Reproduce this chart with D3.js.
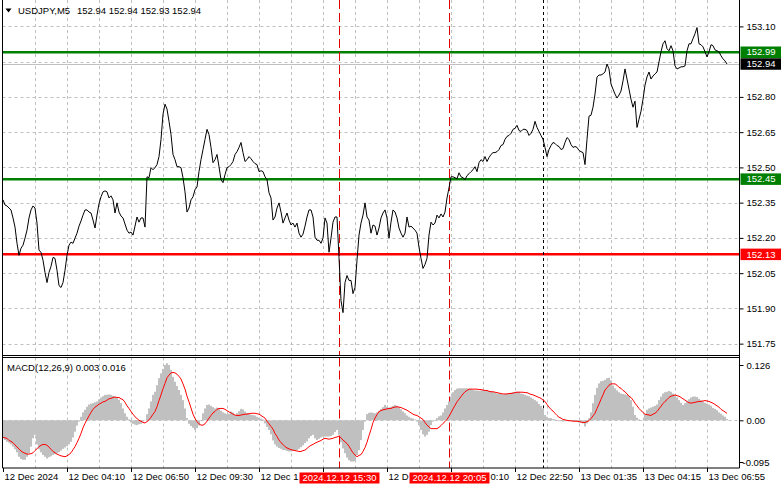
<!DOCTYPE html>
<html><head><meta charset="utf-8">
<script src="https://cdn.jsdelivr.net/npm/d3@7"></script>
<style>
html,body{margin:0;padding:0;background:#fff;}
svg{display:block;font-family:"Liberation Sans",Arial,sans-serif;}
</style></head><body>
<svg id="c" width="781" height="489"></svg>
<script>
// ---------- DATA ----------
const symbol = "USDJPY,M5";
const ohlc = ["152.94", "152.94", "152.93", "152.94"];
const closes = [
152.362,152.340,152.336,152.327,152.319,152.285,152.246,152.177,152.126,152.156,
152.169,152.199,152.233,152.285,152.319,152.336,152.327,152.263,152.147,152.139,
152.105,152.053,152.010,152.053,152.079,152.117,152.113,152.062,151.997,151.989,
152.010,152.062,152.126,152.169,152.182,152.177,152.199,152.220,152.250,152.272,
152.297,152.319,152.319,152.310,152.306,152.276,152.242,152.297,152.345,152.375,
152.396,152.400,152.396,152.370,152.379,152.362,152.306,152.349,152.310,152.293,
152.285,152.259,152.233,152.220,152.225,152.212,152.250,152.289,152.267,152.285,
152.285,152.246,152.460,152.456,152.499,152.490,152.499,152.512,152.546,152.619,
152.726,152.769,152.748,152.696,152.640,152.555,152.533,152.503,152.503,152.499,
152.456,152.396,152.310,152.327,152.362,152.375,152.405,152.417,152.482,152.533,
152.576,152.619,152.662,152.640,152.585,152.520,152.533,152.555,152.503,152.448,
152.435,152.469,152.499,152.503,152.512,152.525,152.555,152.567,152.585,152.606,
152.563,152.525,152.533,152.546,152.537,152.525,152.516,152.512,152.482,
152.486,152.482,152.460,152.448,152.392,152.370,152.276,152.289,152.327,152.349,
152.310,152.263,152.285,152.306,152.276,152.255,152.263,152.246,152.263,152.220,
152.203,152.216,152.250,152.289,152.319,152.319,152.289,152.203,152.190,152.190,
152.177,152.199,152.285,152.263,152.139,152.199,152.267,152.289,152.289,152.117,
151.933,151.882,152.010,152.040,152.019,152.019,151.963,151.989,152.105,152.212,
152.263,152.297,152.349,152.289,152.276,152.220,152.255,152.250,152.212,152.242,
152.285,152.306,152.319,152.285,152.199,152.267,152.319,152.310,152.285,152.242,
152.220,152.203,152.220,152.289,152.246,152.250,152.242,152.233,152.220,152.160,
152.113,152.070,152.087,152.113,152.212,152.267,152.255,152.263,152.297,152.285,
152.302,152.289,152.310,152.370,152.413,152.460,152.460,152.456,152.452,152.477,
152.460,152.456,152.448,152.465,152.473,152.482,152.490,152.503,152.482,152.520,
152.533,152.525,152.546,152.525,152.542,152.555,152.563,152.563,152.567,152.576,
152.593,152.597,152.619,152.632,152.636,152.645,152.662,152.666,152.679,152.657,
152.653,152.662,152.662,152.657,152.636,152.645,152.662,152.696,152.670,152.653,
152.636,152.619,152.585,152.546,152.576,152.593,152.606,152.602,152.593,152.589,
152.576,152.580,152.606,152.627,152.619,152.597,152.585,152.589,152.585,152.572,
152.567,152.563,152.512,152.619,152.718,152.722,152.756,152.812,152.885,152.893,
152.893,152.898,152.906,152.940,152.919,152.855,152.833,152.812,152.795,152.808,
152.825,152.868,152.919,152.876,152.833,152.790,152.756,152.782,152.670,152.705,
152.739,152.790,152.850,152.885,152.906,152.876,152.889,152.898,152.906,152.949,
152.992,153.026,153.039,153.005,152.996,153.018,152.996,152.932,152.919,152.923,
152.928,152.928,152.932,152.996,153.026,153.026,153.048,153.069,153.095,153.026,
153.022,153.013,152.992,152.970,152.992,153.022,153.018,153.000,152.996,152.992,
152.975,152.962,152.953,152.940
];
const macdMain = [
-0.041,-0.045,-0.049,-0.051,-0.055,-0.060,-0.066,-0.073,-0.083,-0.088,
-0.090,-0.090,-0.083,-0.075,-0.060,-0.041,-0.033,-0.055,-0.066,-0.073,
-0.079,-0.083,-0.087,-0.084,-0.082,-0.079,-0.077,-0.075,-0.073,-0.069,
-0.065,-0.062,-0.059,-0.055,-0.049,-0.039,-0.026,-0.012,-0.003,0.008,
0.018,0.024,0.031,0.036,0.038,0.039,0.041,0.043,0.048,0.052,
0.055,0.058,0.058,0.059,0.058,0.056,0.054,0.052,0.047,0.039,
0.027,0.016,0.008,0.002,-0.005,-0.008,-0.010,-0.011,-0.009,-0.008,
-0.003,0.001,0.014,0.027,0.043,0.058,0.065,0.080,0.096,0.107,
0.117,0.126,0.130,0.126,0.115,0.099,0.088,0.078,0.069,0.058,
0.046,0.027,0.005,-0.008,-0.013,-0.017,-0.022,-0.018,-0.012,0.001,
0.016,0.027,0.035,0.036,0.033,0.030,0.027,0.029,0.027,0.022,
0.018,0.016,0.014,0.015,0.020,0.018,0.012,0.016,0.021,0.026,
0.025,0.020,0.017,0.015,0.013,0.012,0.011,0.008,0.006,
0.004,0.002,-0.007,-0.015,-0.022,-0.032,-0.046,-0.055,-0.060,-0.063,
-0.065,-0.068,-0.068,-0.070,-0.071,-0.071,-0.070,-0.069,-0.068,-0.065,
-0.061,-0.057,-0.052,-0.048,-0.041,-0.036,-0.033,-0.041,-0.045,-0.042,
-0.039,-0.037,-0.037,-0.037,-0.037,-0.036,-0.033,-0.027,-0.022,-0.033,
-0.050,-0.064,-0.075,-0.085,-0.091,-0.094,-0.094,-0.093,-0.079,-0.068,
-0.045,-0.022,-0.003,0.014,0.017,0.018,0.017,0.016,0.018,0.021,
0.026,0.030,0.035,0.031,0.029,0.031,0.033,0.035,0.033,0.030,
0.025,0.020,0.016,0.011,0.008,0.005,0.004,0.002,-0.003,-0.011,
-0.022,-0.032,-0.037,-0.033,-0.026,-0.011,-0.003,0.001,0.005,0.009,
0.011,0.018,0.027,0.035,0.043,0.054,0.064,0.069,0.072,0.073,
0.073,0.073,0.073,0.073,0.072,0.071,0.069,0.068,0.068,0.067,
0.068,0.069,0.068,0.068,0.067,0.066,0.065,0.063,0.061,0.061,
0.060,0.059,0.060,0.061,0.061,0.063,0.064,0.065,0.065,0.065,
0.061,0.060,0.058,0.056,0.055,0.052,0.049,0.046,0.043,0.037,
0.033,0.027,0.012,0.008,0.005,0.005,0.003,0.002,-0.001,-0.002,
-0.002,-0.003,-0.002,-0.002,-0.002,-0.002,-0.003,-0.003,-0.004,-0.005,
-0.005,-0.007,-0.014,-0.007,0.005,0.018,0.039,0.058,0.074,0.084,
0.089,0.090,0.092,0.096,0.097,0.091,0.079,0.073,0.068,0.064,
0.061,0.060,0.059,0.058,0.055,0.046,0.031,0.012,0.006,0.002,
-0.001,0.001,0.014,0.024,0.027,0.029,0.031,0.033,0.036,0.046,
0.054,0.061,0.064,0.065,0.067,0.065,0.061,0.057,0.052,0.046,
0.040,0.035,0.039,0.043,0.048,0.052,0.054,0.054,0.053,0.049,
0.046,0.043,0.040,0.038,0.036,0.033,0.028,0.026,0.023,0.018,
0.015,0.011,0.008,0.003
];
const macdSignal = [
-0.039,-0.040,-0.041,-0.046,-0.048,-0.051,-0.056,-0.061,-0.065,-0.070,
-0.073,-0.075,-0.077,-0.077,-0.076,-0.074,-0.069,-0.065,-0.060,-0.057,
-0.055,-0.055,-0.057,-0.061,-0.066,-0.071,-0.074,-0.077,-0.079,-0.081,
-0.082,-0.083,-0.081,-0.078,-0.074,-0.067,-0.060,-0.051,-0.041,-0.030,
-0.017,-0.007,0.002,0.010,0.018,0.025,0.030,0.033,0.037,0.039,
0.042,0.043,0.046,0.049,0.050,0.052,0.053,0.052,0.052,0.049,
0.047,0.041,0.033,0.027,0.020,0.014,0.008,0.004,0.000,-0.002,
-0.005,-0.006,-0.003,0.001,0.007,0.014,0.020,0.031,0.045,0.058,
0.072,0.084,0.097,0.103,0.108,0.109,0.108,0.105,0.100,0.094,
0.083,0.071,0.055,0.042,0.028,0.014,0.004,-0.003,-0.008,-0.011,
-0.011,-0.008,-0.002,0.005,0.011,0.017,0.020,0.025,0.027,0.027,
0.027,0.025,0.022,0.019,0.017,0.014,0.012,0.011,0.011,0.012,
0.013,0.014,0.014,0.015,0.016,0.016,0.016,0.015,0.014,
0.011,0.008,0.005,-0.002,-0.008,-0.014,-0.020,-0.030,-0.037,-0.045,
-0.051,-0.055,-0.060,-0.063,-0.065,-0.067,-0.068,-0.069,-0.070,-0.071,
-0.071,-0.069,-0.068,-0.064,-0.060,-0.057,-0.055,-0.052,-0.050,-0.048,
-0.046,-0.043,-0.041,-0.042,-0.043,-0.042,-0.041,-0.039,-0.038,-0.036,
-0.040,-0.045,-0.049,-0.053,-0.059,-0.067,-0.074,-0.079,-0.083,-0.080,
-0.078,-0.071,-0.062,-0.050,-0.035,-0.021,-0.005,0.005,0.013,0.020,
0.022,0.024,0.025,0.026,0.027,0.027,0.029,0.030,0.031,0.030,
0.029,0.027,0.025,0.023,0.020,0.017,0.014,0.012,0.011,0.008,
0.005,0.002,-0.005,-0.011,-0.015,-0.019,-0.019,-0.019,-0.019,-0.016,
-0.012,-0.007,-0.003,0.002,0.009,0.017,0.026,0.034,0.042,0.048,
0.054,0.060,0.065,0.068,0.071,0.071,0.071,0.071,0.071,0.070,
0.070,0.069,0.068,0.068,0.066,0.065,0.065,0.064,0.063,0.062,
0.061,0.060,0.060,0.060,0.061,0.061,0.062,0.063,0.064,0.064,
0.064,0.064,0.063,0.063,0.061,0.059,0.058,0.056,0.054,0.052,
0.050,0.046,0.043,0.036,0.030,0.025,0.021,0.016,0.011,0.007,
0.005,0.002,0.001,0.000,-0.001,-0.001,-0.002,-0.002,-0.002,-0.003,
-0.004,-0.005,-0.005,-0.003,-0.001,0.004,0.010,0.016,0.027,0.037,
0.048,0.058,0.069,0.074,0.080,0.083,0.083,0.083,0.080,0.075,
0.073,0.068,0.065,0.060,0.055,0.052,0.046,0.039,0.033,0.027,
0.022,0.018,0.014,0.013,0.012,0.011,0.014,0.016,0.020,0.026,
0.032,0.038,0.043,0.047,0.052,0.055,0.056,0.058,0.056,0.055,
0.052,0.049,0.046,0.043,0.040,0.039,0.040,0.041,0.042,0.043,
0.043,0.044,0.045,0.044,0.043,0.041,0.039,0.036,0.033,0.030,
0.025,0.022,0.019,0.016
];
const macdTitle = "MACD(12,26,9) 0.003 0.016";
const priceTicks = [153.10, 152.80, 152.65, 152.50, 152.35, 152.20, 152.05, 151.90, 151.75];
const priceGrid = [153.10, 152.95, 152.80, 152.65, 152.50, 152.35, 152.20, 152.05, 151.90, 151.75];
const macdTicks = [0.126, 0, -0.095];
const macdTickLabels = ["0.126", "0.00", "-0.095"];
const timeTickIdx = [0, 32, 64, 96, 128, 160, 192, 224, 256, 288, 320, 352];
const timeLabels = ["12 Dec 2024", "12 Dec 04:10", "12 Dec 06:50", "12 Dec 09:30", "12 Dec 12:10",
  "12 Dec 14:50", "12 Dec 17:30", "12 Dec 20:10", "12 Dec 22:50", "13 Dec 01:35", "13 Dec 04:15", "13 Dec 06:55"];
const levelValues = [152.99, 152.45, 152.13];
const levelKinds = ["green", "green", "red"];
const bidPrice = 152.94;
const markerIdx = [168, 223];
const markerLabels = ["2024.12.12 15:30", "2024.12.12 20:05"];
const separatorIdx = 270;

// ---------- LAYOUT ----------
const W = 781, H = 489;
const L = 2.5, R = 739.5;
const mainTop = 0, mainBot = 355.5, macdTop = 357.5, macdBot = 468;
const FS = "9.5px";
const colors = { green: "#008000", red: "#ff0000", grid: "#c0c0c0", hist: "#c0c0c0" };

const svg = d3.select("#c");
svg.append("rect").attr("width", W).attr("height", H).attr("fill", "#fff");

const x = d3.scaleLinear().domain([0, 368.5]).range([3, 740]);
const yP = d3.scaleLinear().domain([151.75, 153.10]).range([343.65, 26.4]);
const yM = d3.scaleLinear().domain([-0.095, 0.126]).range([462, 365]);

const defs = svg.append("defs");
defs.append("clipPath").attr("id", "clipMain").append("rect")
  .attr("x", L).attr("y", mainTop).attr("width", R - L).attr("height", mainBot - mainTop);
defs.append("clipPath").attr("id", "clipMacd").append("rect")
  .attr("x", L).attr("y", macdTop).attr("width", R - L).attr("height", macdBot - macdTop);

const gridIdx = d3.range(16, 368, 16);
const crisp = v => Math.round(v) + 0.5;

// vertical grid in both panels
[[mainTop, mainBot], [macdTop, macdBot]].forEach(([t, b]) => {
  svg.append("g").selectAll("line").data(gridIdx).join("line")
    .attr("x1", d => crisp(x(d))).attr("x2", d => crisp(x(d)))
    .attr("y1", t).attr("y2", b)
    .attr("stroke", colors.grid).attr("stroke-dasharray", "3,3");
});
// horizontal grid main
svg.append("g").selectAll("line").data(priceGrid).join("line")
  .attr("x1", L).attr("x2", R)
  .attr("y1", d => crisp(yP(d))).attr("y2", d => crisp(yP(d)))
  .attr("stroke", colors.grid).attr("stroke-dasharray", "3,3");
// zero line macd
svg.append("line").attr("x1", L).attr("x2", R)
  .attr("y1", crisp(yM(0))).attr("y2", crisp(yM(0)))
  .attr("stroke", colors.grid).attr("stroke-dasharray", "3,3");

// bid line
svg.append("line").attr("x1", L).attr("x2", R)
  .attr("y1", crisp(yP(bidPrice))).attr("y2", crisp(yP(bidPrice)))
  .attr("stroke", "#c0c0c0").attr("stroke-width", 1);

// level lines
svg.append("g").selectAll("line").data(levelValues).join("line")
  .attr("x1", L).attr("x2", R)
  .attr("y1", d => yP(d)).attr("y2", d => yP(d))
  .attr("stroke", (d, i) => colors[levelKinds[i]]).attr("stroke-width", 2.5);

// separator (dotted black)
[[mainTop, mainBot], [macdTop, macdBot]].forEach(([t, b]) => {
  svg.append("line").attr("x1", crisp(x(separatorIdx))).attr("x2", crisp(x(separatorIdx)))
    .attr("y1", t).attr("y2", b).attr("stroke", "#000").attr("stroke-dasharray", "3,3");
});
// red dashed markers
markerIdx.forEach(m => {
  [[mainTop, mainBot], [macdTop, macdBot]].forEach(([t, b]) => {
    svg.append("line").attr("x1", crisp(x(m))).attr("x2", crisp(x(m)))
      .attr("y1", t).attr("y2", b).attr("stroke", "#e00000").attr("stroke-dasharray", "9,4");
  });
});

// price line
svg.append("path").datum(closes)
  .attr("clip-path", "url(#clipMain)")
  .attr("fill", "none").attr("stroke", "#000").attr("stroke-width", 1)
  .attr("d", d3.line().x((d, i) => x(i)).y(d => yP(d)));

// MACD histogram
svg.append("g").attr("clip-path", "url(#clipMacd)")
  .selectAll("rect").data(macdMain).join("rect")
  .attr("x", (d, i) => x(i) - 1).attr("width", 2)
  .attr("y", d => Math.min(yM(d), yM(0)))
  .attr("height", d => Math.abs(yM(d) - yM(0)))
  .attr("fill", colors.hist);
// signal
svg.append("path").datum(macdSignal)
  .attr("clip-path", "url(#clipMacd)")
  .attr("fill", "none").attr("stroke", "#ff0000").attr("stroke-width", 1)
  .attr("d", d3.line().x((d, i) => x(i)).y(d => yM(d)));

// frames
const frame = svg.append("g").attr("stroke", "#000").attr("stroke-width", 1).attr("fill", "none");
frame.append("line").attr("x1", L).attr("x2", L).attr("y1", mainTop).attr("y2", macdBot);
frame.append("line").attr("x1", R).attr("x2", R).attr("y1", mainTop).attr("y2", macdBot);
frame.append("line").attr("x1", L).attr("x2", R).attr("y1", mainBot).attr("y2", mainBot);
frame.append("line").attr("x1", L).attr("x2", R).attr("y1", macdTop).attr("y2", macdTop);
frame.append("line").attr("x1", L).attr("x2", R).attr("y1", macdBot).attr("y2", macdBot);

// right price axis
const axP = svg.append("g").attr("transform", `translate(${R},0)`)
  .call(d3.axisRight(yP).tickValues(priceTicks).tickSize(4).tickPadding(3).tickFormat(d3.format(".2f")));
axP.select(".domain").remove();
axP.selectAll("text").attr("font-size", FS).attr("font-family", "Liberation Sans, Arial, sans-serif").attr("fill", "#000");
axP.selectAll("line").attr("stroke", "#000");

// right macd axis
const axM = svg.append("g").attr("transform", `translate(${R},0)`)
  .call(d3.axisRight(yM).tickValues(macdTicks).tickSize(4).tickPadding(3).tickFormat((d, i) => macdTickLabels[i]));
axM.select(".domain").remove();
axM.selectAll("text").attr("font-size", FS).attr("font-family", "Liberation Sans, Arial, sans-serif").attr("fill", "#000");
axM.selectAll("line").attr("stroke", "#000");
axM.selectAll(".tick").filter((d, i) => i === 2).select("text").attr("x", 3);

// marker time label boxes (measure first)
const boxExt = [];
const markerG = [];
markerIdx.forEach((m, i) => {
  const cx = crisp(x(m));
  const g = svg.append("g");
  const t = g.append("text").attr("x", cx).attr("y", 481).attr("text-anchor", "middle")
    .attr("font-size", FS).attr("fill", "#fff").text(markerLabels[i]);
  const w = t.node().getComputedTextLength() + 6;
  g.insert("rect", "text").attr("x", cx - w / 2).attr("y", 472.5).attr("width", w).attr("height", 11).attr("fill", "#ff0000");
  boxExt.push([cx - w / 2, cx + w / 2]);
  markerG.push(g);
});

// bottom time axis
const axT = svg.append("g").attr("transform", `translate(0,${macdBot})`)
  .call(d3.axisBottom(x).tickValues(timeTickIdx).tickSize(4).tickPadding(1).tickFormat((d, i) => timeLabels[i]));
axT.select(".domain").remove();
axT.selectAll("text").attr("font-size", FS).attr("font-family", "Liberation Sans, Arial, sans-serif")
  .attr("fill", "#000").attr("text-anchor", "start").attr("dx", 1);
axT.selectAll("line").attr("stroke", "#000");
// labels partly hidden behind the marker boxes show only their visible part
axT.selectAll(".tick text").each(function (d, i) {
  const el = d3.select(this);
  const node = this;
  const full = timeLabels[i];
  const sx = x(d) + 1;
  const w = node.getComputedTextLength();
  for (const [b0, b1] of boxExt) {
    const ex = sx + w;
    if (ex <= b0 || sx >= b1) continue;
    if (sx < b0) {
      let k = full.length;
      while (k > 0 && sx + node.getSubStringLength(0, k) > b0 + 0.5) k--;
      el.text(full.slice(0, k));
    } else if (ex > b1 + 3) {
      let k = 0;
      while (k < full.length && sx + node.getSubStringLength(0, k + 1) < b1 + 2) k++;
      const off = node.getSubStringLength(0, k);
      el.text(full.slice(k)).attr("dx", 1 + off);
    } else {
      el.remove();
    }
    break;
  }
});
markerG.forEach(g => g.raise());

// price level label boxes
const boxes = levelValues.map((v, i) => ({ v, fill: colors[levelKinds[i]] }));
boxes.push({ v: bidPrice, fill: "#000" });
const bx = svg.append("g");
boxes.forEach(b => {
  const cy = yP(b.v);
  bx.append("rect").attr("x", R + 1).attr("y", cy - 5.75).attr("width", W - R - 1).attr("height", 11.5).attr("fill", b.fill);
  bx.append("text").attr("x", R + 7).attr("y", cy).attr("dy", "0.34em")
    .attr("font-size", FS).attr("fill", "#fff").text(d3.format(".2f")(b.v));
});

// title
svg.append("path").attr("d", "M5.5,8.5 L11.5,8.5 L8.5,12.5 Z").attr("fill", "#000");
const title = svg.append("text").attr("y", 14).attr("font-size", FS).attr("fill", "#000");
title.append("tspan").attr("x", 18).text(symbol);
title.append("tspan").attr("x", 77).text(ohlc.join(" "));

// macd title
svg.append("text").attr("x", 7).attr("y", 370.5).attr("font-size", FS).attr("fill", "#000").text(macdTitle);
</script>
</body></html>
